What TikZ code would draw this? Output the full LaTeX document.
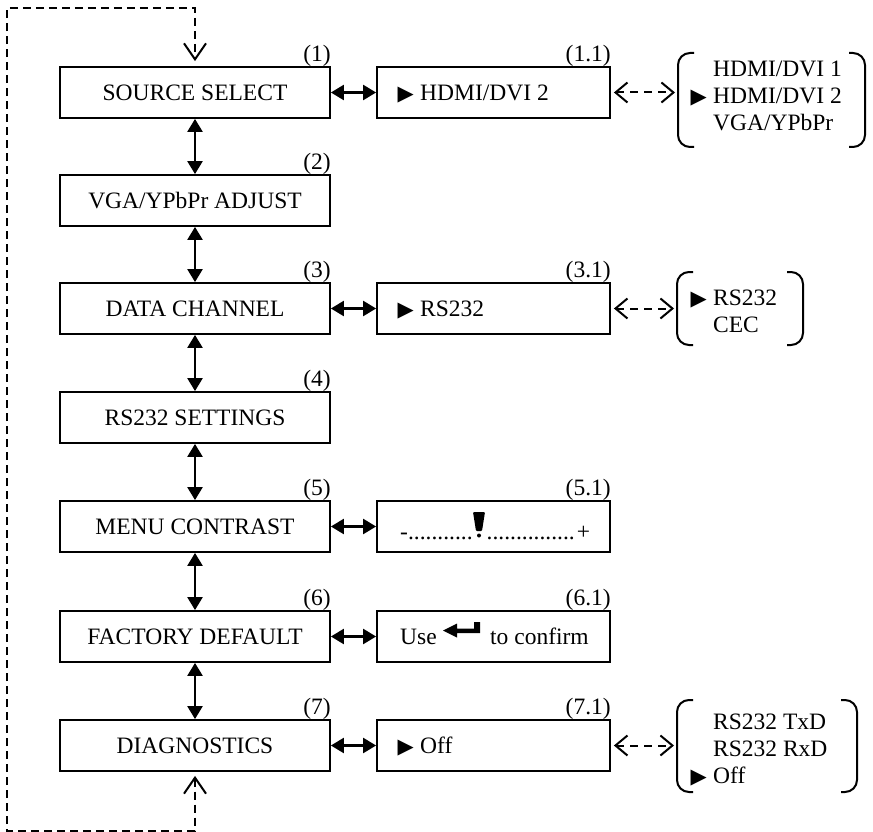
\documentclass[tikz,border=0pt]{standalone}
\usepackage{fontspec}
\setmainfont{Liberation Serif}
\newfontfamily\symfont{DejaVu Sans}
\usetikzlibrary{arrows.meta}
\newcommand\myfs{\fontsize{23.5}{27}\selectfont}
\begin{document}
\begin{tikzpicture}[x=1pt,y=-1pt,
  lbox/.style={draw, line width=1.8pt, minimum width=270pt, minimum height=51pt, inner sep=0pt, font=\myfs, text height=15.6pt, text depth=0pt},
  rbox/.style={draw, line width=1.8pt, minimum width=233pt, minimum height=51pt, inner sep=0pt},
  txt/.style={font=\myfs, inner sep=0pt, anchor=base west},
  lab/.style={font=\myfs, inner sep=0pt, anchor=base east},
  tri/.style={font=\symfont\fontsize{21}{21}\selectfont, inner sep=0pt, anchor=base east},
  dbl/.style={line width=2.4pt, {Triangle[length=13pt,width=15pt]}-{Triangle[length=13pt,width=15pt]}},
  dda/.style={line width=2pt, dash pattern=on 8pt off 6pt, {Straight Barb[length=12pt,width=20pt]}-{Straight Barb[length=12pt,width=20pt]}},
  loopl/.style={line width=2pt, dash pattern=on 8pt off 5pt, {Straight Barb[length=16pt,width=22pt]}-{Straight Barb[length=16pt,width=22pt]}},
  brk/.style={line width=2pt, rounded corners=12pt}
]
\useasboundingbox (0,0) rectangle (873,832);

% left column
\node[lbox] (s1) at (195,92.5) {SOURCE SELECT};
\node[lbox] (s2) at (195,200.5) {VGA/YPbPr ADJUST};
\node[lbox] (s3) at (195,308.5) {DATA CHANNEL};
\node[lbox] (s4) at (195,417.5) {RS232 SETTINGS};
\node[lbox] (s5) at (195,526.5) {MENU CONTRAST};
\node[lbox] (s6) at (195,636.5) {FACTORY DEFAULT};
\node[lbox] (s7) at (195,745.5) {DIAGNOSTICS};

\node[lab] (l1) at ([yshift=5pt]s1.north east) {(1)};
\node[lab] (l2) at ([yshift=5pt]s2.north east) {(2)};
\node[lab] (l3) at ([yshift=5pt]s3.north east) {(3)};
\node[lab] (l4) at ([yshift=5pt]s4.north east) {(4)};
\node[lab] (l5) at ([yshift=5pt]s5.north east) {(5)};
\node[lab] (l6) at ([yshift=5pt]s6.north east) {(6)};
\node[lab] (l7) at ([yshift=5pt]s7.north east) {(7)};

% right column
\node[rbox] (r1) at (493.5,92.5) {};
\node[rbox] (r3) at (493.5,308.5) {};
\node[rbox] (r5) at (493.5,526.5) {};
\node[rbox] (r6) at (493.5,636.5) {};
\node[rbox] (r7) at (493.5,745.5) {};

\node[lab] (l11) at ([yshift=5pt]r1.north east) {(1.1)};
\node[lab] (l31) at ([yshift=5pt]r3.north east) {(3.1)};
\node[lab] (l51) at ([yshift=5pt]r5.north east) {(5.1)};
\node[lab] (l61) at ([yshift=5pt]r6.north east) {(6.1)};
\node[lab] (l71) at ([yshift=5pt]r7.north east) {(7.1)};

\node[tri] (m1) at (414,100.3) {▶};
\node[txt] (t1) at (420,100.3) {HDMI/DVI 2};
\node[tri] (m3) at (414,316.3) {▶};
\node[txt] (t3) at (420,316.3) {RS232};
\node[txt] (t5) at (400,539) {-...........\hspace{14pt}...............\hspace{2pt}+};
\fill[rounded corners=1pt] (473,512) -- (485,512) -- (482,531) -- (476,531) -- cycle;
\fill (479,535.5) circle (2pt);
\node[txt] (u6) at (400,644.3) {Use};
\fill (443,630.5) -- (457,623.5) -- (457,628.5) -- (474,628.5) -- (474,622) -- (480,622)
      -- (480,633) -- (457,633) -- (457,637.5) -- cycle;
\node[txt] (c6) at (490,644.3) {to confirm};
\node[tri] (m7) at (414,753.3) {▶};
\node[txt] (t7) at (420,753.3) {Off};

% vertical arrows
\draw[dbl] (s1) -- (s2);
\draw[dbl] (s2) -- (s3);
\draw[dbl] (s3) -- (s4);
\draw[dbl] (s4) -- (s5);
\draw[dbl] (s5) -- (s6);
\draw[dbl] (s6) -- (s7);

% horizontal arrows
\draw[dbl] (s1) -- (r1);
\draw[dbl] (s3) -- (r3);
\draw[dbl] (s5) -- (r5);
\draw[dbl] (s6) -- (r6);
\draw[dbl] (s7) -- (r7);

% loop
\draw[loopl] ([yshift=-4pt]s7.south) -- ++(0,55) -| (7,8) -| ([yshift=5pt]s1.north);

% option lists
\coordinate (b1) at (675,92.5);
\coordinate (b3) at (674,308.5);
\coordinate (b7) at (674,745.5);
\draw[dda] ([xshift=3pt]r1.east) -- (b1);
\draw[dda] ([xshift=3pt]r3.east) -- (b3);
\draw[dda] ([xshift=3pt]r7.east) -- (b7);

\draw[brk] (694,53) -- (678,53) -- (678,147) -- (694,147);
\draw[brk] (849,53) -- (865,53) -- (865,147) -- (849,147);
\node[txt] (o11) at (713,77) {HDMI/DVI 1};
\node[tri] (o1m) at (707,104) {▶};
\node[txt] (o12) at (713,104) {HDMI/DVI 2};
\node[txt] (o13) at (713,131) {VGA/YPbPr};

\draw[brk] (693,272) -- (677,272) -- (677,345) -- (693,345);
\draw[brk] (787,272) -- (803,272) -- (803,345) -- (787,345);
\node[tri] (o3m) at (707,305) {▶};
\node[txt] (o31) at (713,305) {RS232};
\node[txt] (o32) at (713,332) {CEC};

\draw[brk] (693,700) -- (677,700) -- (677,792) -- (693,792);
\draw[brk] (841,700) -- (857,700) -- (857,792) -- (841,792);
\node[txt] (o71) at (713,729) {RS232 TxD};
\node[txt] (o72) at (713,756) {RS232 RxD};
\node[tri] (o7m) at (707,783) {▶};
\node[txt] (o73) at (713,783) {Off};
\end{tikzpicture}
\end{document}
